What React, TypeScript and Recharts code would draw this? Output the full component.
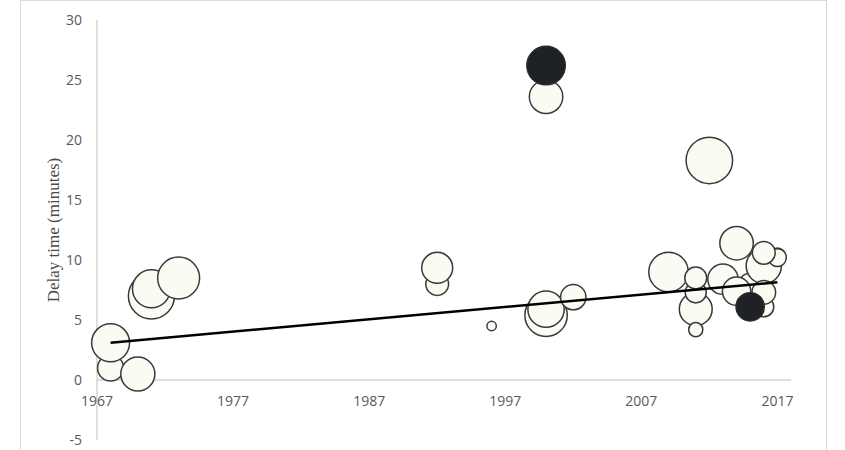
import { ReferenceLine, Scatter, ScatterChart, XAxis, YAxis, ZAxis } from "recharts"

// white bubbles, in drawing order (later ones sit on top)
const whiteYears = [1968, 1968, 1970, 1971, 1971, 1973, 1992, 1992, 1996, 2000, 2000, 2000, 2002, 2009, 2011, 2011, 2011, 2011, 2012, 2013, 2014, 2015, 2016, 2014, 2016, 2016, 2017, 2017, 2016]
const whiteDelays = [1.0, 3.1, 0.5, 7.0, 7.6, 8.5, 8.0, 9.35, 4.5, 23.6, 5.4, 5.9, 6.9, 9.0, 5.9, 7.3, 8.5, 4.2, 18.3, 8.4, 11.4, 7.9, 9.5, 7.4, 6.1, 7.3, 10.3, 10.2, 10.6]
const whiteSizes = [17, 36, 29, 53, 36, 44, 13, 24, 2.2, 28, 45, 33, 16, 39, 27, 11, 12, 5, 54, 23, 28, 14, 31, 20, 10, 14, 7, 8, 13]

// dark bubbles
const darkYears = [2000, 2015]
const darkDelays = [26.2, 6.1]
const darkSizes = [37, 20]

// trend line end points
const trendYears = [1968, 2017]
const trendDelays = [3.1, 8.14]

const xTicks = [1967, 1977, 1987, 1997, 2007, 2017]
const yTicks = [-5, 0, 5, 10, 15, 20, 25, 30]

const toPoints = (years: number[], delays: number[], sizes: number[]) =>
  years.map((year, i) => ({ year, delay: delays[i], size: sizes[i] }))

const whiteData = toPoints(whiteYears, whiteDelays, whiteSizes)
const darkData = toPoints(darkYears, darkDelays, darkSizes)
const trendData = trendYears.map((year, i) => ({ year, delay: trendDelays[i], size: 0 }))

const tickStyle = { fill: "#595959", fontSize: 14, fontFamily: "'Open Sans', sans-serif" }

export default function App() {
  return (
    <div style={{ position: "absolute", left: 0, top: 0, width: 845, height: 450, background: "#fff", overflow: "hidden" }}>
      <div
        style={{
          position: "absolute",
          left: 20,
          top: 0,
          width: 805,
          height: 470,
          border: "1px solid #d9d9d9",
        }}
      />
      <div style={{ position: "absolute", left: 0, top: 0 }}>
        <ScatterChart width={845} height={450} margin={{ top: 20, right: 54, bottom: 0, left: 8 }}>
          <XAxis
            type="number"
            dataKey="year"
            domain={[1967, 2018]}
            ticks={xTicks}
            axisLine={false}
            tickLine={false}
            height={10}
            tick={{ ...tickStyle, dy: -52 }}
          />
          <YAxis
            type="number"
            dataKey="delay"
            domain={[-5, 30]}
            ticks={yTicks}
            width={89}
            axisLine={{ stroke: "#bfbfbf" }}
            tickLine={false}
            tickMargin={9}
            tick={tickStyle}
            label={{
              value: "Delay time (minutes)",
              angle: -90,
              position: "center",
              style: { fill: "#4a4a4a", fontSize: 17, fontFamily: "'Liberation Serif', serif", textAnchor: "middle" },
            }}
          />
          <ZAxis type="number" dataKey="size" domain={[0, 60]} range={[0, 600 * Math.PI]} />
          <ReferenceLine y={0} stroke="#bfbfbf" />
          <Scatter data={whiteData} fill="#fbfbf3" stroke="#3a3a3a" strokeWidth={1.5} isAnimationActive={false} />
          <Scatter
            data={trendData}
            line={{ stroke: "#000", strokeWidth: 2.5 }}
            shape={() => <g />}
            isAnimationActive={false}
          />
          <Scatter data={darkData} fill="#1e2226" stroke="#2a2a2a" strokeWidth={1.5} isAnimationActive={false} />
        </ScatterChart>
      </div>
    </div>
  )
}
